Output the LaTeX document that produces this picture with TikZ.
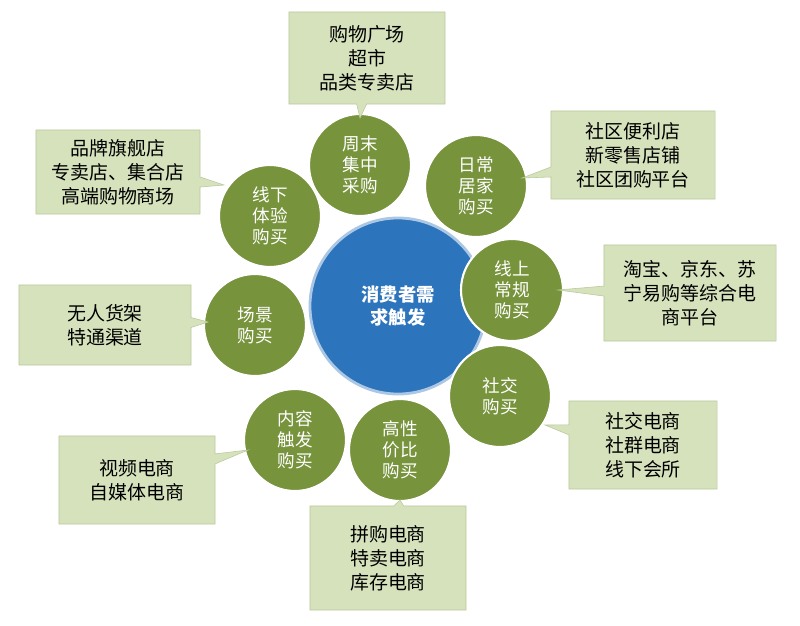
\documentclass[tikz,border=0pt]{standalone}
\usepackage{fontspec}
\setmainfont{Noto Sans CJK SC}
\usetikzlibrary{shapes.callouts}
\definecolor{boxfill}{HTML}{D6E2BC}
\definecolor{boxline}{HTML}{B9C99A}
\definecolor{leaf}{HTML}{77933C}
\definecolor{hub}{HTML}{2C74BB}
\tikzset{
  leafnode/.style={circle, fill=leaf, draw=white, line width=1.5pt, minimum size=2.55cm, align=center, text=white, font=\fontsize{12.5}{15}\selectfont},
  hubnode/.style={circle, fill=hub, draw=hub!40, line width=2pt, minimum size=4.4cm, align=center, text=white, font=\fontsize{13}{17}\selectfont\bfseries},
  tipbox/.style={rectangle callout, fill=boxfill, draw=boxline, align=center, inner sep=0pt, font=\fontsize{13.5}{17}\selectfont}
}
\begin{document}
\begin{tikzpicture}[x=0.025cm, y=-0.025cm]
\useasboundingbox (0,0) rectangle (800,625);
% centre
\node[hubnode] (hub) at (398,306) {消费者需\\求触发};
% ring
\node[leafnode] (weekend) at (360,165) {周末\\集中\\采购};
\node[leafnode] (daily) at (476,186) {日常\\居家\\购买};
\node[leafnode] (online) at (512,290) {线上\\常规\\购买};
\node[leafnode] (social) at (500,396) {社交\\购买};
\node[leafnode] (value) at (400,450) {高性\\价比\\购买};
\node[leafnode] (content) at (295,440) {内容\\触发\\购买};
\node[leafnode] (scene) at (255,325) {场景\\购买};
\node[leafnode] (offline) at (270,216) {线下\\体验\\购买};
% callouts
\node[tipbox, minimum width=3.9cm, minimum height=2.3cm, callout absolute pointer={(360,118)}] (mall) at (367,58) {购物广场\\超市\\品类专卖店};
\node[tipbox, minimum width=4.1cm, minimum height=2.2cm, callout absolute pointer={(522,178)}] (store) at (633,155) {社区便利店\\新零售店铺\\社区团购平台};
\node[tipbox, minimum width=4.3cm, minimum height=2.4cm, callout absolute pointer={(558,290)}] (taobao) at (690,293) {淘宝、京东、苏\\宁易购等综合电\\商平台};
\node[tipbox, minimum width=3.7cm, minimum height=2.2cm, callout absolute pointer={(545,425)}] (group) at (643,445) {社交电商\\社群电商\\线下会所};
\node[tipbox, minimum width=3.9cm, minimum height=2.6cm, callout absolute pointer={(400,500)}] (discount) at (388,558) {拼购电商\\特卖电商\\库存电商};
\node[tipbox, minimum width=3.9cm, minimum height=2.2cm, callout absolute pointer={(248,450)}] (video) at (137,480) {视频电商\\自媒体电商};
\node[tipbox, minimum width=4.3cm, minimum height=2.0cm, callout absolute pointer={(208,322)}] (shelf) at (105,325) {无人货架\\特通渠道};
\node[tipbox, minimum width=4.1cm, minimum height=2.1cm, callout absolute pointer={(224,185)}] (brand) at (118,172) {品牌旗舰店\\专卖店、集合店\\高端购物商场};
\end{tikzpicture}
\end{document}
